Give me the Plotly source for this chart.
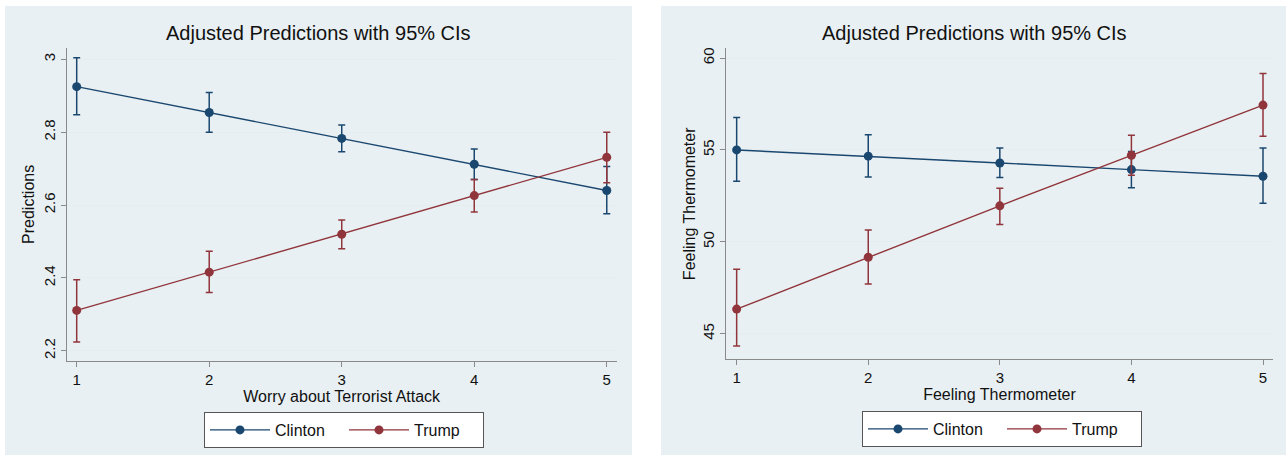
import plotly.graph_objects as go

levels = [1, 2, 3, 4, 5]
series_names = ["Clinton", "Trump"]

# Left panel: Worry about Terrorist Attack -> Predictions
worry_clinton = [2.925, 2.854, 2.783, 2.712, 2.640]
worry_clinton_lo = [2.848, 2.800, 2.746, 2.670, 2.576]
worry_clinton_hi = [3.004, 2.909, 2.820, 2.754, 2.706]
worry_trump = [2.311, 2.416, 2.520, 2.626, 2.731]
worry_trump_lo = [2.224, 2.360, 2.480, 2.581, 2.661]
worry_trump_hi = [2.395, 2.473, 2.559, 2.670, 2.800]

# Right panel: Feeling Thermometer
therm_clinton = [55.00, 54.66, 54.29, 53.93, 53.57]
therm_clinton_lo = [53.30, 53.53, 53.50, 52.95, 52.10]
therm_clinton_hi = [56.76, 55.82, 55.11, 54.91, 55.11]
therm_trump = [46.34, 49.16, 51.96, 54.71, 57.44]
therm_trump_lo = [44.34, 47.71, 50.94, 53.62, 55.74]
therm_trump_hi = [48.51, 50.65, 52.92, 55.80, 59.16]

left_yticks = [2.2, 2.4, 2.6, 2.8, 3]
left_yticktext = ["2.2", "2.4", "2.6", "2.8", "3"]
right_yticks = [45, 50, 55, 60]
right_yticktext = ["45", "50", "55", "60"]

title_text = "Adjusted Predictions with 95% CIs"
left_xtitle = "Worry about Terrorist Attack"
left_ytitle = "Predictions"
right_xtitle = "Feeling Thermometer"
right_ytitle = "Feeling Thermometer"

COLORS = {"Clinton": "#1a476f", "Trump": "#90353b"}
FONT = "Liberation Sans, Arial, Helvetica, sans-serif"
BG = "#e9f0f3"
GRID = "#e4edf0"
AXC = "#8a8a8a"

W, H = 1286, 457

fig = go.Figure()


def add_series(name, ys, lo, hi, xa, ya, legend):
    col = COLORS[name]
    fig.add_trace(go.Scatter(
        x=levels, y=ys, name=name, mode="lines+markers",
        xaxis=xa, yaxis=ya, legend=legend,
        line=dict(color=col, width=1.4),
        marker=dict(color=col, size=9, symbol="circle"),
        error_y=dict(type="data", symmetric=False,
                     array=[h - v for h, v in zip(hi, ys)],
                     arrayminus=[v - l for v, l in zip(ys, lo)],
                     color=col, thickness=1.5, width=3.5),
    ))


add_series("Clinton", worry_clinton, worry_clinton_lo, worry_clinton_hi, "x", "y", "legend")
add_series("Trump", worry_trump, worry_trump_lo, worry_trump_hi, "x", "y", "legend")
add_series("Clinton", therm_clinton, therm_clinton_lo, therm_clinton_hi, "x2", "y2", "legend2")
add_series("Trump", therm_trump, therm_trump_lo, therm_trump_hi, "x2", "y2", "legend2")


def px_x(p):
    return p / W


def px_y(p):
    return (H - p) / H


axis_common = dict(
    showline=True, linecolor=AXC, linewidth=1.2,
    ticks="outside", ticklen=5, tickcolor=AXC, tickwidth=1.2,
    zeroline=False, mirror=False,
    tickfont=dict(family=FONT, size=15, color="#111"),
    title_font=dict(family=FONT, size=16, color="#111"),
    automargin=False,
)

legend_common = dict(
    xanchor="center", yanchor="top", orientation="h",
    bgcolor="white", bordercolor="#555", borderwidth=1,
    font=dict(family=FONT, size=16, color="#111"), itemwidth=60,
    entrywidth=64, entrywidthmode="pixels",
)

fig.update_layout(
    width=W, height=H,
    margin=dict(l=0, r=0, t=0, b=0),
    paper_bgcolor="white", plot_bgcolor="white",
    font=dict(family=FONT, color="#111"),
    xaxis=dict(domain=[px_x(66.7), px_x(616.7)], anchor="y",
               range=[0.9245, 5.075], tickvals=levels, showgrid=False,
               title=dict(text=left_xtitle, standoff=2), **axis_common),
    yaxis=dict(domain=[px_y(360.7), px_y(48)], anchor="x",
               range=[2.173, 3.031], tickvals=left_yticks, ticktext=left_yticktext,
               tickangle=-90, showgrid=True, gridcolor=GRID, gridwidth=1,
               title=dict(text=left_ytitle, standoff=1), **axis_common),
    xaxis2=dict(domain=[px_x(726), px_x(1273)], anchor="y2",
                range=[0.919, 5.076], tickvals=levels, showgrid=False,
                title=dict(text=right_xtitle, standoff=1), **axis_common),
    yaxis2=dict(domain=[px_y(359.3), px_y(48.3)], anchor="x2",
                range=[43.61, 60.53], tickvals=right_yticks, ticktext=right_yticktext,
                tickangle=-90, showgrid=True, gridcolor=GRID, gridwidth=1,
                title=dict(text=right_ytitle, standoff=0), **axis_common),
    legend=dict(x=px_x(344), y=px_y(412), **legend_common),
    legend2=dict(x=px_x(1002), y=px_y(411), **legend_common),
    showlegend=True,
    shapes=[
        dict(type="rect", xref="paper", yref="paper", layer="below",
             x0=px_x(5), x1=px_x(632), y0=px_y(455), y1=px_y(6),
             fillcolor=BG, line=dict(width=0)),
        dict(type="rect", xref="paper", yref="paper", layer="below",
             x0=px_x(661), x1=1.0, y0=px_y(455), y1=px_y(6),
             fillcolor=BG, line=dict(width=0)),
    ],
    annotations=[
        dict(text=title_text, xref="paper", yref="paper", x=px_x(318.5), y=px_y(33),
             xanchor="center", yanchor="middle", showarrow=False,
             font=dict(family=FONT, size=20, color="#111")),
        dict(text=title_text, xref="paper", yref="paper", x=px_x(974), y=px_y(33),
             xanchor="center", yanchor="middle", showarrow=False,
             font=dict(family=FONT, size=20, color="#111")),
    ],
)

fig.write_html("out.html", config={"displayModeBar": False},
               post_script="document.body.style.margin='0';")
